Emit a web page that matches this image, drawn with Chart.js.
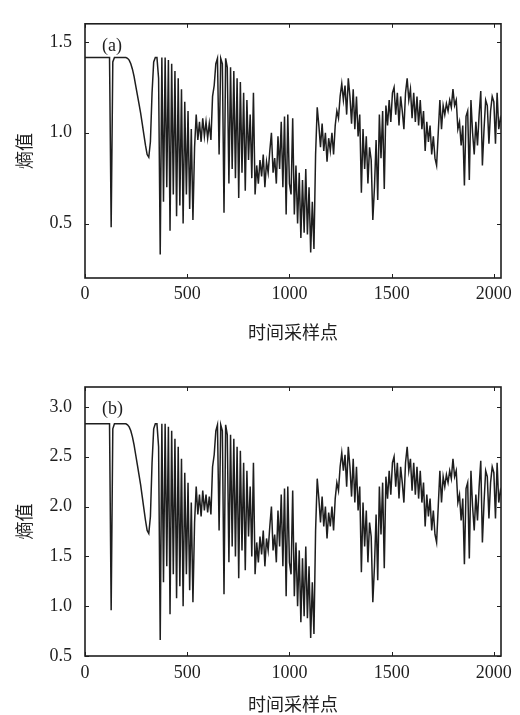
<!DOCTYPE html>
<html>
<head>
<meta charset="utf-8">
<script src="https://cdn.jsdelivr.net/npm/chart.js@4.4.1/dist/chart.umd.min.js"></script>
<style>
  html, body { margin: 0; padding: 0; background: #fff; }
  #wrap { position: relative; width: 520px; height: 715px; }
  #wrap canvas { position: absolute; left: 0; }
</style>
</head>
<body>
<div id="wrap">
  <canvas id="chart-a" width="520" height="355" style="top:0px"></canvas>
  <canvas id="chart-b" width="520" height="355" style="top:360px"></canvas>
</div>
<script>
// entropy over time sampling points, panels (a) and (b)

const SAMPLE_STEP = 8; // one value read every 8 sampling points
const X_TICKS = [0, 500, 1000, 1500, 2000];
const Y_TICKS_A = [0.5, 1.0, 1.5];
const Y_TICKS_B = [0.5, 1.0, 1.5, 2.0, 2.5, 3.0];
const PANEL_LABELS = ['(a)', '(b)'];
const X_TITLE = '时间采样点';
const Y_TITLE = '熵值';

// panel (a)
const entropyA = [
    1.414,1.414,1.414,1.414,1.414,1.414,1.414,1.414,1.414,1.414,1.414,1.414,1.414,1.414,1.414,1.414,
    0.48,1.39,1.414,1.414,1.414,1.414,1.414,1.414,1.414,1.414,1.41,1.40,1.38,1.35,1.31,1.26,
    1.21,1.16,1.11,1.05,0.99,0.93,0.88,0.865,0.95,1.22,1.39,1.414,1.414,1.30,0.33,1.414,
    0.62,1.414,0.70,1.40,0.46,1.38,0.66,1.34,0.54,1.30,0.60,1.24,0.50,1.17,0.66,1.12,
    0.58,1.02,0.52,0.92,1.10,0.96,1.06,0.95,1.08,0.98,1.06,0.97,1.05,0.96,1.20,1.26,
    1.38,1.41,0.88,1.41,1.38,0.56,1.41,1.36,0.72,1.36,0.80,1.34,0.75,1.30,0.64,1.28,
    0.78,1.22,0.68,1.18,0.85,1.10,0.75,1.22,0.66,0.82,0.72,0.85,0.76,0.88,0.70,0.84,
    0.78,0.90,1.00,0.78,0.86,0.72,0.98,0.80,1.06,0.70,1.09,0.55,1.10,0.72,0.66,1.08,
    0.55,0.82,0.50,0.78,0.42,0.74,0.45,0.80,0.44,0.70,0.34,0.62,0.36,0.88,1.14,1.04,
    0.92,1.05,0.90,1.00,0.84,0.97,0.90,1.00,0.88,1.04,1.12,1.08,1.20,1.27,1.18,1.26,
    1.10,1.30,1.20,1.05,1.24,1.02,1.20,0.98,1.10,0.67,1.02,0.80,0.98,0.72,0.92,0.85,
    0.52,0.70,0.96,0.63,1.10,0.86,1.12,0.69,1.15,1.04,1.18,1.06,1.22,1.25,1.10,1.22,
    1.04,1.20,1.12,1.02,1.22,1.30,1.18,1.24,1.08,1.22,1.06,1.20,1.04,1.18,1.02,1.12,
    0.90,1.06,0.95,1.04,0.88,0.98,0.86,0.82,1.00,1.18,1.02,1.15,1.10,1.16,1.12,1.18,
    1.14,1.24,1.15,1.18,1.02,1.06,0.93,1.04,0.71,1.09,1.12,0.74,1.18,1.00,0.88,1.06,
    0.93,1.10,1.23,0.82,1.02,1.18,1.15,0.94,1.12,1.20,1.17,0.94,1.22,1.02,1.08,1.05
];

// panel (b)
const entropyB = [
    2.83,2.83,2.83,2.83,2.83,2.83,2.83,2.83,2.83,2.83,2.83,2.83,2.83,2.83,2.83,2.83,
    0.96,2.78,2.83,2.83,2.83,2.83,2.83,2.83,2.83,2.83,2.82,2.80,2.76,2.70,2.62,2.52,
    2.42,2.32,2.22,2.10,1.98,1.86,1.76,1.73,1.90,2.44,2.78,2.83,2.83,2.60,0.66,2.83,
    1.24,2.83,1.40,2.80,0.92,2.76,1.32,2.68,1.08,2.60,1.20,2.48,1.00,2.34,1.32,2.24,
    1.16,2.04,1.04,1.84,2.20,1.92,2.12,1.90,2.16,1.96,2.12,1.94,2.10,1.92,2.40,2.52,
    2.76,2.82,1.76,2.82,2.76,1.12,2.82,2.72,1.44,2.72,1.60,2.68,1.50,2.60,1.28,2.56,
    1.56,2.44,1.36,2.36,1.70,2.20,1.50,2.44,1.32,1.64,1.44,1.70,1.52,1.76,1.40,1.68,
    1.56,1.80,2.00,1.56,1.72,1.44,1.96,1.60,2.12,1.40,2.18,1.10,2.20,1.44,1.32,2.16,
    1.10,1.64,1.00,1.56,0.84,1.48,0.90,1.60,0.88,1.40,0.68,1.24,0.72,1.76,2.28,2.08,
    1.84,2.10,1.80,2.00,1.68,1.94,1.80,2.00,1.76,2.08,2.24,2.16,2.40,2.54,2.36,2.52,
    2.20,2.60,2.40,2.10,2.48,2.04,2.40,1.96,2.20,1.34,2.04,1.60,1.96,1.44,1.84,1.70,
    1.04,1.40,1.92,1.26,2.20,1.72,2.24,1.38,2.30,2.08,2.36,2.12,2.44,2.50,2.20,2.44,
    2.08,2.40,2.24,2.04,2.44,2.60,2.36,2.48,2.16,2.44,2.12,2.40,2.08,2.36,2.04,2.24,
    1.80,2.12,1.90,2.08,1.76,1.96,1.72,1.64,2.00,2.36,2.04,2.30,2.20,2.32,2.24,2.36,
    2.28,2.48,2.30,2.36,2.04,2.12,1.86,2.08,1.42,2.18,2.24,1.48,2.36,2.00,1.76,2.12,
    1.86,2.20,2.46,1.64,2.04,2.36,2.30,1.88,2.24,2.40,2.34,1.88,2.44,2.04,2.16,2.10
];

const SERIF = '"Liberation Serif", "DejaVu Serif", serif';
const CJK = '"Noto Sans CJK SC", sans-serif';
const INK = '#1e1e1e';

// box round the plot with small inward ticks on all four sides, plus the panel tag
const framePlugin = {
    id: 'frame',
    afterDraw(chart, args, opts) {
        const { ctx, chartArea: a, scales } = chart;
        const x = scales.x, y = scales.y;
        ctx.save();
        ctx.strokeStyle = INK;
        ctx.lineWidth = 1;
        ctx.beginPath();
        x.ticks.forEach(t => {
            const px = Math.round(x.getPixelForValue(t.value)) + 0.5;
            ctx.moveTo(px, a.bottom); ctx.lineTo(px, a.bottom - 4);
            ctx.moveTo(px, a.top); ctx.lineTo(px, a.top + 4);
        });
        y.ticks.forEach(t => {
            const py = Math.round(y.getPixelForValue(t.value)) + 0.5;
            ctx.moveTo(a.left, py); ctx.lineTo(a.left + 4, py);
            ctx.moveTo(a.right, py); ctx.lineTo(a.right - 4, py);
        });
        ctx.stroke();
        ctx.lineWidth = 1.6;
        ctx.strokeRect(a.left, a.top, a.right - a.left, a.bottom - a.top);
        ctx.fillStyle = INK;
        ctx.font = '18px ' + SERIF;
        ctx.textBaseline = 'middle';
        ctx.fillText(opts.text, a.left + 17, a.top + 22);
        ctx.restore();
    }
};

function makePanel(canvasId, values, cfg) {
    const pts = values.map((v, i) => ({ x: i * SAMPLE_STEP, y: v }));
    return new Chart(document.getElementById(canvasId).getContext('2d'), {
        type: 'line',
        data: {
            datasets: [{
                data: pts,
                borderColor: INK,
                borderWidth: 1.5,
                borderJoinStyle: 'miter',
                pointRadius: 0,
                tension: 0,
                fill: false
            }]
        },
        options: {
            responsive: false,
            animation: false,
            events: [],
            layout: { padding: { top: cfg.padTop, right: 19, left: 0, bottom: 0 } },
            plugins: {
                legend: { display: false },
                tooltip: { enabled: false },
                frame: { text: cfg.tag }
            },
            scales: {
                x: {
                    type: 'linear',
                    min: 0,
                    max: 2035,
                    grid: { display: false, drawTicks: false },
                    border: { display: false },
                    afterBuildTicks: s => { s.ticks = X_TICKS.map(v => ({ value: v })); },
                    afterFit: s => { s.height = cfg.xAxisH; },
                    ticks: {
                        color: INK,
                        padding: cfg.xTickPad,
                        maxRotation: 0,
                        font: { family: SERIF, size: 18 },
                        callback: v => String(v)
                    },
                    title: {
                        display: true,
                        text: X_TITLE,
                        color: INK,
                        font: { family: CJK, size: 18 },
                        padding: { top: 0, bottom: cfg.xTitlePad }
                    }
                },
                y: {
                    min: cfg.yMin,
                    max: cfg.yMax,
                    grid: { display: false, drawTicks: false },
                    border: { display: false },
                    afterBuildTicks: s => { s.ticks = cfg.yTicks.map(v => ({ value: v })); },
                    afterFit: s => { s.width = 85; },
                    ticks: {
                        color: INK,
                        padding: 13,
                        font: { family: SERIF, size: 18 },
                        callback: v => Number(v).toFixed(1)
                    },
                    title: {
                        display: true,
                        text: Y_TITLE,
                        color: INK,
                        font: { family: CJK, size: 18 },
                        padding: { top: 13, bottom: 0 }
                    }
                }
            }
        },
        plugins: [framePlugin]
    });
}

window.chartA = makePanel('chart-a', entropyA, {
    tag: PANEL_LABELS[0], yMin: 0.2, yMax: 1.6, yTicks: Y_TICKS_A,
    padTop: 8, xAxisH: 77, xTickPad: 5, xTitlePad: 12
});
window.chartB = makePanel('chart-b', entropyB, {
    tag: PANEL_LABELS[1], yMin: 0.5, yMax: 3.2, yTicks: Y_TICKS_B,
    padTop: 27, xAxisH: 59, xTickPad: 6, xTitlePad: 0
});
</script>
</body>
</html>
